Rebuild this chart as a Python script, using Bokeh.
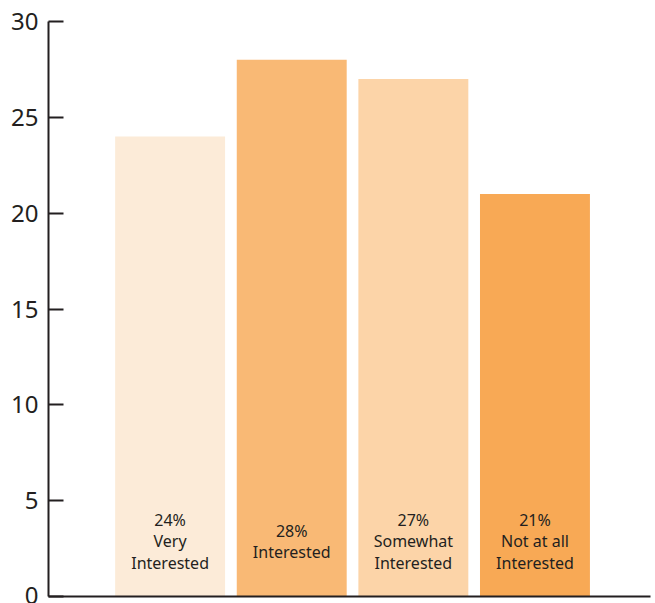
from bokeh.plotting import figure
from bokeh.models import ColumnDataSource, Range1d, FixedTicker
from bokeh.core.properties import value
from bokeh.embed import file_html
from bokeh.resources import INLINE

categories = ["Very\nInterested", "Interested", "Somewhat\nInterested", "Not at all\nInterested"]
percent = [24, 28, 27, 21]
colors = ["#FCEBD8", "#F9B975", "#FCD4A8", "#F8A955"]
positions = [1, 2, 3, 4]
y_ticks = [0, 5, 10, 15, 20, 25, 30]

labels = [f"{v}%\n{c}" for v, c in zip(percent, categories)]

src = ColumnDataSource(dict(x=positions, top=percent, color=colors, label=labels,
                            ly=[2.87] * len(positions)))

p = figure(width=655, height=603, output_backend="svg", toolbar_location=None,
           x_range=Range1d(0, 4.95), y_range=Range1d(0, 30),
           min_border_left=48, min_border_right=5, min_border_top=21, min_border_bottom=7)
p.outline_line_color = None
p.grid.visible = False
p.background_fill_color = "white"
p.border_fill_color = "white"

p.vbar(x="x", top="top", width=0.904, fill_color="color", line_color=None, source=src)

p.text(x="x", y="ly", text="label", source=src, text_align="center", text_baseline="middle",
       text_font=value("Noto Sans"), text_font_size="16px", text_color="#231F20",
       text_line_height=0.97)

p.yaxis.ticker = FixedTicker(ticks=y_ticks)
p.yaxis.major_tick_in = 15
p.yaxis.major_tick_out = 0
p.yaxis.minor_tick_line_color = None
p.yaxis.axis_line_width = 2
p.yaxis.major_tick_line_width = 2
p.yaxis.axis_line_color = "#231F20"
p.yaxis.major_tick_line_color = "#231F20"
p.yaxis.major_label_text_font = "Noto Sans"
p.yaxis.major_label_text_font_size = "24px"
p.yaxis.major_label_text_color = "#231F20"
p.yaxis.major_label_standoff = 10

p.xaxis.ticker = FixedTicker(ticks=[])
p.xaxis.major_tick_out = 0
p.xaxis.major_tick_in = 0
p.xaxis.minor_tick_line_color = None
p.xaxis.major_label_text_font_size = "0px"
p.xaxis.axis_line_width = 2
p.xaxis.axis_line_color = "#231F20"

open("out.html", "w").write(file_html(p, INLINE))
